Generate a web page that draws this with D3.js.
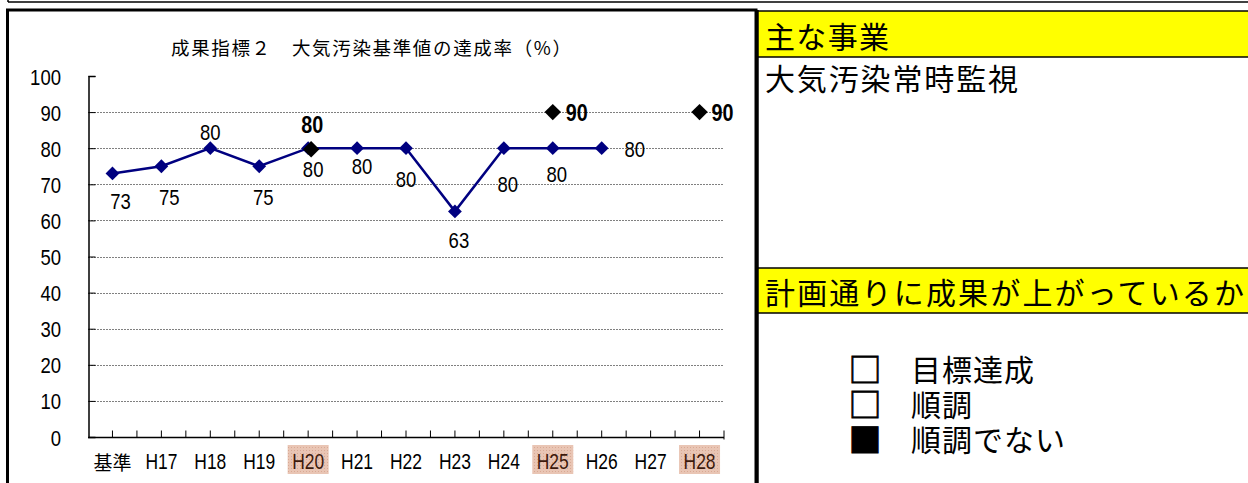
<!DOCTYPE html>
<html><head><meta charset="utf-8">
<script src="https://cdn.jsdelivr.net/npm/d3@7"></script>
<style>
html,body{margin:0;padding:0;background:#fff;}
svg{display:block;}
</style></head>
<body>
<svg id="c" width="1248" height="483"></svg>
<script>
// ---- data ----
const categories = ["基準","H17","H18","H19","H20","H21","H22","H23","H24","H25","H26","H27","H28"];
const actualValues = [73, 75, 80, 75, 80, 80, 80, 62.5, 80, 80, 80, null, null];
const targetCats = ["H20","H25","H28"];
const targetValues = [80, 90, 90];
const highlightCats = ["H20","H25","H28"];
const yTicks = [0,10,20,30,40,50,60,70,80,90,100];
const chartTitle = "成果指標２　大気汚染基準値の達成率（%）";
const header1 = "主な事業";
const projectText = "大気汚染常時監視";
const header2 = "計画通りに成果が上がっているか";
const statusItems = [["□","目標達成"],["□","順調"],["■","順調でない"]];

// label offsets (style config)
const actualLabelOffsets = [[8,27],[8,30],[0,-17],[4,30],[5,20],[5,17],[0,30],[4,28],[4,35],[4,25],[33,0],[0,0],[0,0]];
const targetLabelOffsets = [[4,-24],[24,0],[23,0]];

const svg = d3.select("#c");
const NUM = "'Liberation Sans','Arial',sans-serif";
const JP = "'Noto Sans CJK JP','Noto Sans CJK SC',sans-serif";
function narrow(w){
  return sel => sel.attr("textLength",function(){ return String(this.textContent).length*w; })
     .attr("lengthAdjust","spacingAndGlyphs");
}

// outer frames
svg.append("line").attr("x1",8).attr("x2",1248).attr("y1",2).attr("y2",2).attr("stroke","#000").attr("stroke-width",1.5);
svg.append("line").attr("x1",8).attr("x2",8).attr("y1",0).attr("y2",2).attr("stroke","#000").attr("stroke-width",1.5);
svg.append("rect").attr("x",7.5).attr("y",10).attr("width",748.5).attr("height",500)
  .attr("fill","none").attr("stroke","#000").attr("stroke-width",3);

// scales
const x = d3.scaleBand().domain(categories).range([88,724]);
const y = d3.scaleLinear().domain([0,100]).range([437,76]);
const cx = c => x(c) + x.bandwidth()/2;

// title
svg.append("text").attr("x",171).attr("y",47).attr("dominant-baseline","central")
  .attr("font-family",JP).attr("font-size",18.5).attr("fill","#000")
  .attr("textLength",400).attr("lengthAdjust","spacing").text(chartTitle);

// gridlines
const g = svg.append("g");
g.selectAll("line.grid").data(yTicks.filter(t=>t>0 && t<100)).enter().append("line")
  .attr("x1",88).attr("x2",723).attr("y1",d=>Math.round(y(d))+0.5).attr("y2",d=>Math.round(y(d))+0.5)
  .attr("stroke","#808080").attr("stroke-width",1).attr("stroke-dasharray","2,1");

// y axis
const yAxis = d3.axisRight(y).tickValues(yTicks).tickSize(7).tickFormat("");
const ya = svg.append("g").attr("transform","translate(88.5,0)").call(yAxis);
ya.select(".domain").attr("stroke","#000").attr("stroke-width",1.5);
ya.selectAll(".tick line").attr("stroke","#000");
svg.append("g").selectAll("text").data(yTicks).enter().append("text")
  .attr("x",61).attr("y",d=>y(d)+1).attr("text-anchor","end").attr("dominant-baseline","central")
  .attr("font-family",NUM).attr("font-size",22).attr("fill","#000").text(d=>d).call(narrow(10.3));

// x axis
const xa = svg.append("g").attr("transform","translate(0,437.5)");
xa.append("line").attr("x1",88).attr("x2",724).attr("stroke","#000").attr("stroke-width",1.5);
const halfTicks = [];
categories.forEach((c,i)=>{ halfTicks.push(x(c)); halfTicks.push(cx(c)); });
halfTicks.push(724);
xa.selectAll("line.t").data(halfTicks.slice(1)).enter().append("line")
  .attr("x1",d=>d).attr("x2",d=>d).attr("y1",-7).attr("y2",(d,i)=> i===halfTicks.length-2 ? 2 : 0)
  .attr("stroke","#000").attr("stroke-width",1);

// highlighted label backgrounds
svg.append("defs").html(`<pattern id="hp" width="3" height="3" patternUnits="userSpaceOnUse">
  <rect width="3" height="3" fill="#e9c5b4"/><rect width="1" height="1" fill="#d9a994"/></pattern>`);
svg.append("g").selectAll("rect").data(highlightCats).enter().append("rect")
  .attr("x",d=>cx(d)-20.5).attr("y",445).attr("width",41).attr("height",29).attr("fill","url(#hp)");

svg.append("g").selectAll("text").data(categories).enter().append("text")
  .attr("x",d=>cx(d)).attr("y",461).attr("text-anchor","middle").attr("dominant-baseline","central")
  .attr("font-family",d=>d==="基準"?JP:NUM).attr("font-size",d=>d==="基準"?19:22)
  .attr("fill",d=>highlightCats.includes(d)?"#3d1a0c":"#000").text(d=>d)
  .each(function(d){ if(d!=="基準") d3.select(this).attr("textLength",32).attr("lengthAdjust","spacingAndGlyphs"); });

// actual line
const pts = categories.map((c,i)=>({c, v:actualValues[i], i})).filter(d=>d.v!=null);
svg.append("path").datum(pts)
  .attr("d", d3.line().x(d=>cx(d.c)).y(d=>y(d.v)))
  .attr("fill","none").attr("stroke","#000080").attr("stroke-width",2.5);
svg.append("g").selectAll("path").data(pts).enter().append("path")
  .attr("d",d3.symbol().type(d3.symbolSquare).size(95))
  .attr("transform",d=>`translate(${cx(d.c)},${y(d.v)}) rotate(45)`)
  .attr("fill","#000080");

svg.append("g").selectAll("text").data(pts).enter().append("text")
  .attr("x",d=>cx(d.c)+actualLabelOffsets[d.i][0]).attr("y",d=>y(d.v)+actualLabelOffsets[d.i][1]+1)
  .attr("text-anchor","middle").attr("dominant-baseline","central")
  .attr("font-family",NUM).attr("font-size",22).attr("fill","#000").text(d=>d3.format(".0f")(d.v)).call(narrow(10.3));

// target series
const tpts = targetCats.map((c,i)=>({c, v:targetValues[i], i}));
svg.append("g").selectAll("path").data(tpts).enter().append("path")
  .attr("d",d3.symbol().type(d3.symbolSquare).size(135))
  .attr("transform",d=>`translate(${cx(d.c)+(d.i===0?3:0)},${y(d.v)+(d.i===0?1:0)}) rotate(45)`)
  .attr("fill","#000");
svg.append("g").selectAll("text").data(tpts).enter().append("text")
  .attr("x",d=>cx(d.c)+targetLabelOffsets[d.i][0]).attr("y",d=>y(d.v)+targetLabelOffsets[d.i][1]+1)
  .attr("text-anchor","middle").attr("dominant-baseline","central")
  .attr("font-family",NUM).attr("font-size",23).attr("font-weight","bold").attr("fill","#000")
  .text(d=>d3.format(".0f")(d.v)).call(narrow(11));

// right panel
const R = svg.append("g");
R.append("rect").attr("x",758).attr("y",11).attr("width",490).attr("height",46).attr("fill","#ffff00");
R.append("rect").attr("x",758).attr("y",268).attr("width",490).attr("height",45).attr("fill","#ffff00");
[11,57,268,313].forEach(yy=>R.append("line").attr("x1",757).attr("x2",1248).attr("y1",yy).attr("y2",yy).attr("stroke","#000").attr("stroke-width",1.5));
R.append("line").attr("x1",757).attr("x2",757).attr("y1",10).attr("y2",483).attr("stroke","#000").attr("stroke-width",3.5);

R.append("text").attr("x",765).attr("y",35).attr("dominant-baseline","central")
  .attr("font-family",JP).attr("font-size",30).attr("textLength",124).attr("lengthAdjust","spacing").text(header1);
R.append("text").attr("x",765).attr("y",77).attr("dominant-baseline","central")
  .attr("font-family",JP).attr("font-size",30).attr("textLength",253).attr("lengthAdjust","spacing").text(projectText);
R.append("text").attr("x",765).attr("y",291).attr("dominant-baseline","central")
  .attr("font-family",JP).attr("font-size",30).attr("textLength",479).attr("lengthAdjust","spacing").text(header2);

const st = R.append("g").selectAll("g").data(statusItems).enter().append("g");
st.append("text").attr("x",865).attr("y",(d,i)=>368+i*35).attr("text-anchor","middle").attr("dominant-baseline","central")
  .attr("font-family",JP).attr("font-size",33).attr("stroke","#000").attr("stroke-width",0.8).text(d=>d[0]);
st.append("text").attr("x",911).attr("y",(d,i)=>368+i*35).attr("dominant-baseline","central")
  .attr("font-family",JP).attr("font-size",30).attr("letter-spacing",1).text(d=>d[1]);
</script>
</body></html>
